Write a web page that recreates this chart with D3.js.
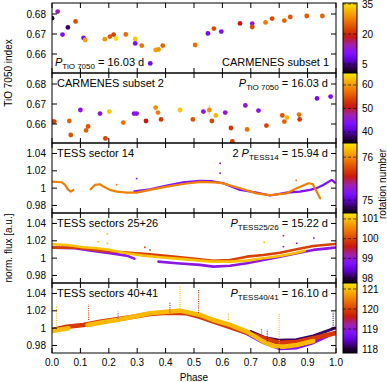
<!DOCTYPE html>
<html>
<head>
<meta charset="utf-8">
<script src="https://cdn.jsdelivr.net/npm/d3@7"></script>
<style>
body { margin: 0; background: #fff; }
text { font-family: "Liberation Sans", Arial, sans-serif; fill: #000; }
</style>
</head>
<body>
<svg id="chart" width="387" height="382"></svg>
<script>
// ---- data ----
var phaseTicks = [0, 0.1, 0.2, 0.3, 0.4, 0.5, 0.6, 0.7, 0.8, 0.9, 1.0];
var tioTicks = [0.66, 0.67, 0.68];
var fluxTicks = [0.98, 1, 1.02, 1.04];

var panelNames = ["CARMENES subset 1", "CARMENES subset 2", "TESS sector 14", "TESS sectors 25+26", "TESS sectors 40+41"];
var periodPre = ["", "", "2 ", "", ""];
var periodSubs = ["TiO 7050", "TiO 7050", "TESS14", "TESS25/26", "TESS40/41"];
var periodVals = ["16.03 d", "16.03 d", "15.94 d", "15.22 d", "16.10 d"];

// colour bar ranges (rotation number) and their ticks
var cbDomains = [[0.5, 35.5], [35.3, 65.1], [74.7, 76.33], [97.75, 101.3], [117.8, 121.3]];
var cbTicks = [[5, 20, 35], [40, 50, 60], [75, 76], [98, 99, 100, 101], [118, 119, 120, 121]];

// CARMENES subset 1
var c1Phase = [0.000, 0.020, 0.037, 0.056, 0.083, 0.111, 0.117, 0.186, 0.204, 0.217, 0.225, 0.260, 0.293, 0.293, 0.316, 0.346, 0.365, 0.375, 0.390, 0.504, 0.549, 0.570, 0.596, 0.662, 0.705, 0.705, 0.752, 0.775, 0.818, 0.839, 0.897, 0.952];
var c1Tio = [0.6779, 0.6812, 0.6697, 0.6733, 0.6763, 0.6681, 0.6670, 0.6674, 0.6687, 0.6697, 0.6677, 0.6698, 0.6675, 0.6653, 0.6642, 0.6553, 0.6620, 0.6623, 0.6642, 0.6645, 0.6703, 0.6727, 0.6712, 0.6753, 0.6752, 0.6735, 0.6758, 0.6777, 0.6767, 0.6785, 0.6790, 0.6790];
var c1Rot = [2, 14, 10, 4, 23, 10, 30, 29, 24, 22, 35, 26, 33, 10, 26, 9, 30, 29, 25, 26, 9, 23, 10, 19, 12, 23, 27, 23, 25, 24, 24, 25];

// CARMENES subset 2
var c2Phase = [0.001, 0.008, 0.061, 0.066, 0.100, 0.120, 0.127, 0.169, 0.188, 0.202, 0.251, 0.289, 0.298, 0.331, 0.365, 0.373, 0.384, 0.451, 0.496, 0.533, 0.554, 0.563, 0.577, 0.610, 0.630, 0.635, 0.681, 0.687, 0.727, 0.755, 0.811, 0.818, 0.827, 0.870, 0.872, 0.933, 0.981];
var c2Tio = [0.6612, 0.6612, 0.6615, 0.6545, 0.6670, 0.6568, 0.6588, 0.6652, 0.6528, 0.6662, 0.6607, 0.6652, 0.6652, 0.6615, 0.6682, 0.6657, 0.6623, 0.6670, 0.6623, 0.6662, 0.6670, 0.6615, 0.6643, 0.6657, 0.6580, 0.6513, 0.6693, 0.6573, 0.6667, 0.6592, 0.6643, 0.6612, 0.6632, 0.6647, 0.6623, 0.6728, 0.6737];
var c2Rot = [55, 54, 56, 55, 45, 56, 55, 45, 54, 63, 57, 45, 45, 51, 59, 58, 53, 63, 55, 45, 59, 54, 62, 45, 53, 54, 45, 57, 45, 54, 55, 56, 62, 57, 53, 43, 43];
var c2Err = [0.0006, 0.0006, 0.0006, 0.0006, 0.0006, 0.0006, 0.0006, 0.0006, 0.0006, 0.0006, 0.0006, 0.0006, 0.0006, 0.0006, 0.0006, 0.0006, 0.0006, 0.0012, 0.0006, 0.0006, 0.0025, 0.0006, 0.0006, 0.0006, 0.0006, 0.0006, 0.0006, 0.0006, 0.0006, 0.0006, 0.0006, 0.0006, 0.0006, 0.0006, 0.0006, 0.0006, 0.0006];

// TESS sector 14 tracks [phase, flux]
var s14Violet = [[0.29, 0.9962], [0.345, 0.9987], [0.404, 1.0030], [0.462, 1.0068], [0.521, 1.0085], [0.560, 1.0080], [0.603, 1.0056], [0.662, 0.9980], [0.720, 0.9950], [0.768, 0.9915], [0.826, 0.9948], [0.873, 0.9960], [0.908, 0.9980], [0.932, 1.0000], [0.955, 1.0037], [0.985, 1.0095], [0.996, 1.0063]];
var s14Orange = [[0.000, 1.0075], [0.034, 1.0068], [0.046, 1.0037], [0.057, 0.9980], [0.066, 0.9960], [0.075, 0.9980], null,
  [0.136, 0.9987], [0.151, 1.0037], [0.169, 1.0045], [0.181, 1.0018], [0.204, 0.9980], [0.228, 0.9960], [0.263, 0.9948], [0.298, 0.9948], [0.345, 0.9980], [0.404, 1.0018], [0.462, 1.0048], [0.521, 1.0072], [0.592, 1.0063], [0.662, 0.9999], [0.720, 0.9940], [0.768, 0.9920], [0.826, 0.9940], [0.862, 0.9999], [0.903, 1.0056], [0.918, 1.0048], [0.944, 0.9883]];
var s14Rot = [75.15, 75.95];
var s14Dots = [[0.592, 1.0287, 75.15], [0.592, 1.0172, 75.15], [0.298, 1.0110, 75.15], [0.860, 1.0090, 75.95], [0.228, 1.0040, 75.95]];

// TESS sectors 25+26 tracks
var s2526Violet = [[0.000, 1.0121], [0.080, 1.0115], [0.146, 1.0083], [0.204, 1.0057], [0.263, 1.0029], [0.290, 0.9994], null,
  [0.375, 0.9960], [0.439, 0.9941], [0.521, 0.9922], [0.568, 0.9902], [0.627, 0.9913], [0.686, 0.9941], [0.744, 0.9979], [0.803, 1.0017], [0.862, 1.0057], [0.920, 1.0095], [0.996, 1.0121]];
var s2526Red = [[0.000, 1.0121], [0.087, 1.0121], [0.169, 1.0087], [0.251, 1.0068], [0.345, 1.0045], [0.427, 1.0017], [0.521, 0.9987], [0.568, 0.9970], [0.627, 0.9979], [0.686, 1.0017], [0.744, 1.0037], [0.803, 1.0063], [0.862, 1.0103], [0.920, 1.0141], [0.996, 1.0164]];
var s2526Yellow = [[0.000, 1.0160], [0.053, 1.0152], [0.110, 1.0126], [0.157, 1.0114], [0.204, 1.0095], [0.263, 1.0057], [0.321, 1.0029], [0.380, 1.0010], [0.451, 0.9991], [0.521, 0.9971], [0.568, 0.9960], [0.627, 0.9960], [0.686, 0.9971], [0.744, 0.9999], [0.803, 1.0025], [0.862, 1.0063], [0.890, 1.0085]];
var s2526Rot = [98.9, 99.95, 101.0];
var s2526Dots = [[0.195, 1.0279, 101.0], [0.195, 1.0171, 101.0], [0.163, 1.0190, 101.0], [0.747, 1.0183, 101.0], [0.815, 1.0259, 98.9], [0.815, 1.0132, 98.9], [0.862, 1.0171, 98.9], [0.922, 1.0233, 98.9], [0.327, 1.0125, 99.95], [0.345, 1.0094, 99.95]];

// TESS sectors 40+41 tracks
var s4041Dark = [[0.700, 0.9960], [0.750, 0.9890], [0.800, 0.9860], [0.860, 0.9865], [0.920, 0.9910], [0.996, 1.0000]];
var s4041Violet = [[0.550, 1.0100], [0.627, 1.0020], [0.686, 0.9938], [0.744, 0.9835], [0.803, 0.9765], [0.862, 0.9775], [0.920, 0.9834], [0.996, 0.9950]];
var s4041Red = [[0.000, 0.9979], [0.052, 1.0017], [0.110, 1.0037], [0.169, 1.0075], [0.228, 1.0102], [0.286, 1.0132], [0.345, 1.0163], [0.404, 1.0178], [0.474, 1.0172], [0.520, 1.0130], [0.600, 1.0040], [0.700, 0.9930], [0.800, 0.9830], [0.860, 0.9840], [0.920, 0.9883], [0.996, 0.9941]];
var s4041Yellow = [[0.000, 0.9965], [0.020, 0.9979], [0.058, 0.9998], null,
  [0.125, 1.0037], [0.169, 1.0063], [0.228, 1.0094], [0.286, 1.0132], [0.345, 1.0172], [0.404, 1.0190], [0.451, 1.0202], [0.521, 1.0152], [0.568, 1.0094], [0.627, 1.0037], [0.686, 0.9959], [0.744, 0.9844], [0.779, 0.9794], [0.815, 0.9786], [0.862, 0.9806], [0.920, 0.9852]];
var s4041Rot = [118.15, 118.85, 119.9, 120.95];
// spikes [phase, low flux, high flux, rotation]
var s4041Spikes = [[0.0165, 0.998, 1.0248, 120.95], [0.129, 1.0094, 1.0275, 119.9], [0.451, 1.019, 1.0498, 120.95], [0.516, 1.0175, 1.044, 119.9], [0.621, 1.0094, 1.0175, 120.95], [0.800, 0.980, 1.0175, 120.95], [0.738, 0.990, 1.0002, 119.9], [0.758, 0.985, 0.998, 118.15], [0.990, 0.998, 1.019, 118.15], [0.415, 1.018, 1.030, 118.85], [0.233, 1.011, 1.019, 118.85]];

// ---- layout ----
var svg = d3.select("#chart");
var left = 52, right = 336, top0 = 3, ph = 70;
var cbX = 343, cbW = 14;

var x = d3.scaleLinear().domain([0, 1]).range([left, right]);

var palStops = [0, 0.08, 0.18, 0.28, 0.4, 0.52, 0.62, 0.75, 0.88, 1];
var palColors = ["#0a0010", "#300050", "#6000d0", "#8010ff", "#a020b0", "#c81810", "#d84000", "#f07800", "#f8b000", "#ffe800"];
var pal = d3.scaleLinear().domain(palStops).range(palColors).interpolate(d3.interpolateRgb);

function colorFor(i) {
	var s = d3.scaleLinear().domain(cbDomains[i]).range([0, 1]).clamp(true);
	return function(r) { return pal(s(r)); };
}

function yFor(i, dom) {
	return d3.scaleLinear().domain(dom).range([top0 + (i + 1) * ph, top0 + i * ph]);
}

var defs = svg.append("defs");
var grad = defs.append("linearGradient").attr("id", "pal")
	.attr("x1", 0).attr("y1", 1).attr("x2", 0).attr("y2", 0);
palStops.forEach(function(s, k) {
	grad.append("stop").attr("offset", s).attr("stop-color", palColors[k]);
});

for (var i = 0; i < 5; i++) {
	defs.append("clipPath").attr("id", "clip" + i)
		.append("rect").attr("x", left).attr("y", top0 + i * ph).attr("width", right - left).attr("height", ph);
}

var line = d3.line().defined(function(d) { return d; })
	.x(function(d) { return x(d[0]); });

function drawTrack(g, y, data, color, width) {
	g.append("path")
		.attr("d", line.y(function(d) { return y(d[1]); })(data))
		.attr("fill", "none")
		.attr("stroke", color)
		.attr("stroke-width", width)
		.attr("stroke-linejoin", "round")
		.attr("stroke-linecap", "round");
}

function drawFrame(i, y, ticks, fmt) {
	var g = svg.append("g");
	var yTop = top0 + i * ph, yBot = top0 + (i + 1) * ph;
	g.append("rect").attr("x", left).attr("y", yTop).attr("width", right - left).attr("height", ph)
		.attr("fill", "none").attr("stroke", "#000").attr("stroke-width", 1);
	phaseTicks.forEach(function(t) {
		g.append("line").attr("x1", x(t)).attr("x2", x(t)).attr("y1", yBot).attr("y2", yBot - 5).attr("stroke", "#000");
		g.append("line").attr("x1", x(t)).attr("x2", x(t)).attr("y1", yTop).attr("y2", yTop + 5).attr("stroke", "#000");
	});
	ticks.forEach(function(t) {
		g.append("line").attr("x1", left).attr("x2", left + 5).attr("y1", y(t)).attr("y2", y(t)).attr("stroke", "#000");
		g.append("line").attr("x1", right - 5).attr("x2", right).attr("y1", y(t)).attr("y2", y(t)).attr("stroke", "#000");
		g.append("text").attr("x", left - 6).attr("y", y(t) + 3.5).attr("text-anchor", "end")
			.attr("font-size", 10).text(fmt(t));
	});
}

function periodLabel(i, px, py, anchor) {
	var t = svg.append("text").attr("x", px).attr("y", py).attr("text-anchor", anchor).attr("font-size", 11);
	if (periodPre[i]) t.append("tspan").text(periodPre[i]);
	t.append("tspan").attr("font-style", "italic").text("P");
	t.append("tspan").attr("font-size", 8).attr("dy", 3).text(periodSubs[i]);
	t.append("tspan").attr("dy", -3).text(" = " + periodVals[i]);
}

function colorBar(i) {
	var yTop = top0 + i * ph, yBot = top0 + (i + 1) * ph;
	var s = d3.scaleLinear().domain(cbDomains[i]).range([yBot, yTop]);
	var g = svg.append("g");
	g.append("rect").attr("x", cbX).attr("y", yTop).attr("width", cbW).attr("height", ph)
		.attr("fill", "url(#pal)").attr("stroke", "#000").attr("stroke-width", 1);
	cbTicks[i].forEach(function(t) {
		g.append("line").attr("x1", cbX).attr("x2", cbX + cbW).attr("y1", s(t)).attr("y2", s(t))
			.attr("stroke", "#000").attr("stroke-opacity", 0.6).attr("stroke-dasharray", "3,2");
		g.append("text").attr("x", cbX + 19).attr("y", s(t) + 3.5).attr("font-size", 10).text(t);
	});
}

var fmtTio = d3.format(".2f");
var fmtFlux = function(d) { return d === 1 ? "1" : d3.format(".2f")(d); };

// ---- CARMENES panels ----
var yC1 = yFor(0, [0.6505, 0.6855]);
var col1 = colorFor(0);
var g1 = svg.append("g").attr("clip-path", "url(#clip0)");
g1.selectAll("circle").data(c1Phase).enter().append("circle")
	.attr("cx", function(d) { return x(d); })
	.attr("cy", function(d, k) { return yC1(c1Tio[k]); })
	.attr("r", 2.4)
	.attr("fill", function(d, k) { return col1(c1Rot[k]); });

var yC2 = yFor(1, [0.6505, 0.6855]);
var col2 = colorFor(1);
var g2 = svg.append("g").attr("clip-path", "url(#clip1)");
g2.selectAll("line").data(c2Phase).enter().append("line")
	.attr("x1", function(d) { return x(d); }).attr("x2", function(d) { return x(d); })
	.attr("y1", function(d, k) { return yC2(c2Tio[k] - c2Err[k]); })
	.attr("y2", function(d, k) { return yC2(c2Tio[k] + c2Err[k]); })
	.attr("stroke", function(d, k) { return col2(c2Rot[k]); })
	.attr("stroke-opacity", 0.35).attr("stroke-width", 1.5);
g2.selectAll("circle").data(c2Phase).enter().append("circle")
	.attr("cx", function(d) { return x(d); })
	.attr("cy", function(d, k) { return yC2(c2Tio[k]); })
	.attr("r", 2.4)
	.attr("fill", function(d, k) { return col2(c2Rot[k]); });

// ---- TESS panels ----
var fluxDom = [0.9713, 1.0521];

function drawDots(g, y, dots, col) {
	dots.forEach(function(d) {
		g.append("rect").attr("x", x(d[0]) - 0.8).attr("y", y(d[1]) - 0.8).attr("width", 1.6).attr("height", 1.6)
			.attr("fill", col(d[2]));
	});
}

var y3 = yFor(2, fluxDom), col3 = colorFor(2);
var g3 = svg.append("g").attr("clip-path", "url(#clip2)");
drawTrack(g3, y3, s14Violet, col3(s14Rot[0]), 2.2);
drawTrack(g3, y3, s14Orange, col3(s14Rot[1]), 2.2);
drawDots(g3, y3, s14Dots, col3);

var y4 = yFor(3, fluxDom), col4 = colorFor(3);
var g4 = svg.append("g").attr("clip-path", "url(#clip3)");
drawTrack(g4, y4, s2526Violet, col4(s2526Rot[0]), 2.6);
drawTrack(g4, y4, s2526Red, col4(s2526Rot[1]), 2.6);
drawTrack(g4, y4, s2526Yellow, col4(s2526Rot[2]), 2.6);
drawDots(g4, y4, s2526Dots, col4);

var y5 = yFor(4, fluxDom), col5 = colorFor(4);
var g5 = svg.append("g").attr("clip-path", "url(#clip4)");
drawTrack(g5, y5, s4041Dark, col5(s4041Rot[0]), 3);
drawTrack(g5, y5, s4041Violet, col5(s4041Rot[1]), 3.5);
drawTrack(g5, y5, s4041Red, col5(s4041Rot[2]), 4.5);
drawTrack(g5, y5, s4041Yellow, col5(s4041Rot[3]), 4.5);
s4041Spikes.forEach(function(d) {
	g5.append("line").attr("x1", x(d[0])).attr("x2", x(d[0]))
		.attr("y1", y5(d[1])).attr("y2", y5(d[2]))
		.attr("stroke", col5(d[3])).attr("stroke-width", 1.1).attr("stroke-dasharray", "1,1.2");
});

// ---- frames, labels ----
drawFrame(0, yC1, tioTicks, fmtTio);
drawFrame(1, yC2, tioTicks, fmtTio);
drawFrame(2, y3, fluxTicks, fmtFlux);
drawFrame(3, y4, fluxTicks, fmtFlux);
drawFrame(4, y5, fluxTicks, fmtFlux);

// panel 1 has its texts at the bottom
periodLabel(0, 55, top0 + ph - 7, "start");
svg.append("text").attr("x", 329).attr("y", top0 + ph - 7).attr("text-anchor", "end").attr("font-size", 11).text(panelNames[0]);
for (var p = 1; p < 5; p++) {
	svg.append("text").attr("x", 57).attr("y", top0 + p * ph + 14).attr("font-size", 11).text(panelNames[p]);
	periodLabel(p, 328, top0 + p * ph + 14, "end");
}

// x axis labels
phaseTicks.forEach(function(t) {
	svg.append("text").attr("x", x(t)).attr("y", top0 + 5 * ph + 13).attr("text-anchor", "middle")
		.attr("font-size", 10).text(d3.format(".1f")(t));
});
svg.append("text").attr("x", x(0.5)).attr("y", 381).attr("text-anchor", "middle").attr("font-size", 10).text("Phase");

svg.append("text").attr("transform", "translate(12," + (top0 + ph) + ") rotate(-90)")
	.attr("text-anchor", "middle").attr("font-size", 10).text("TiO 7050 index");
svg.append("text").attr("transform", "translate(12," + (top0 + 3.5 * ph) + ") rotate(-90)")
	.attr("text-anchor", "middle").attr("font-size", 10).text("norm. flux [a.u.]");

for (var c = 0; c < 5; c++) colorBar(c);
svg.append("text").attr("transform", "translate(386,184) rotate(-90)")
	.attr("text-anchor", "middle").attr("font-size", 10).text("rotation number");
</script>
</body>
</html>
